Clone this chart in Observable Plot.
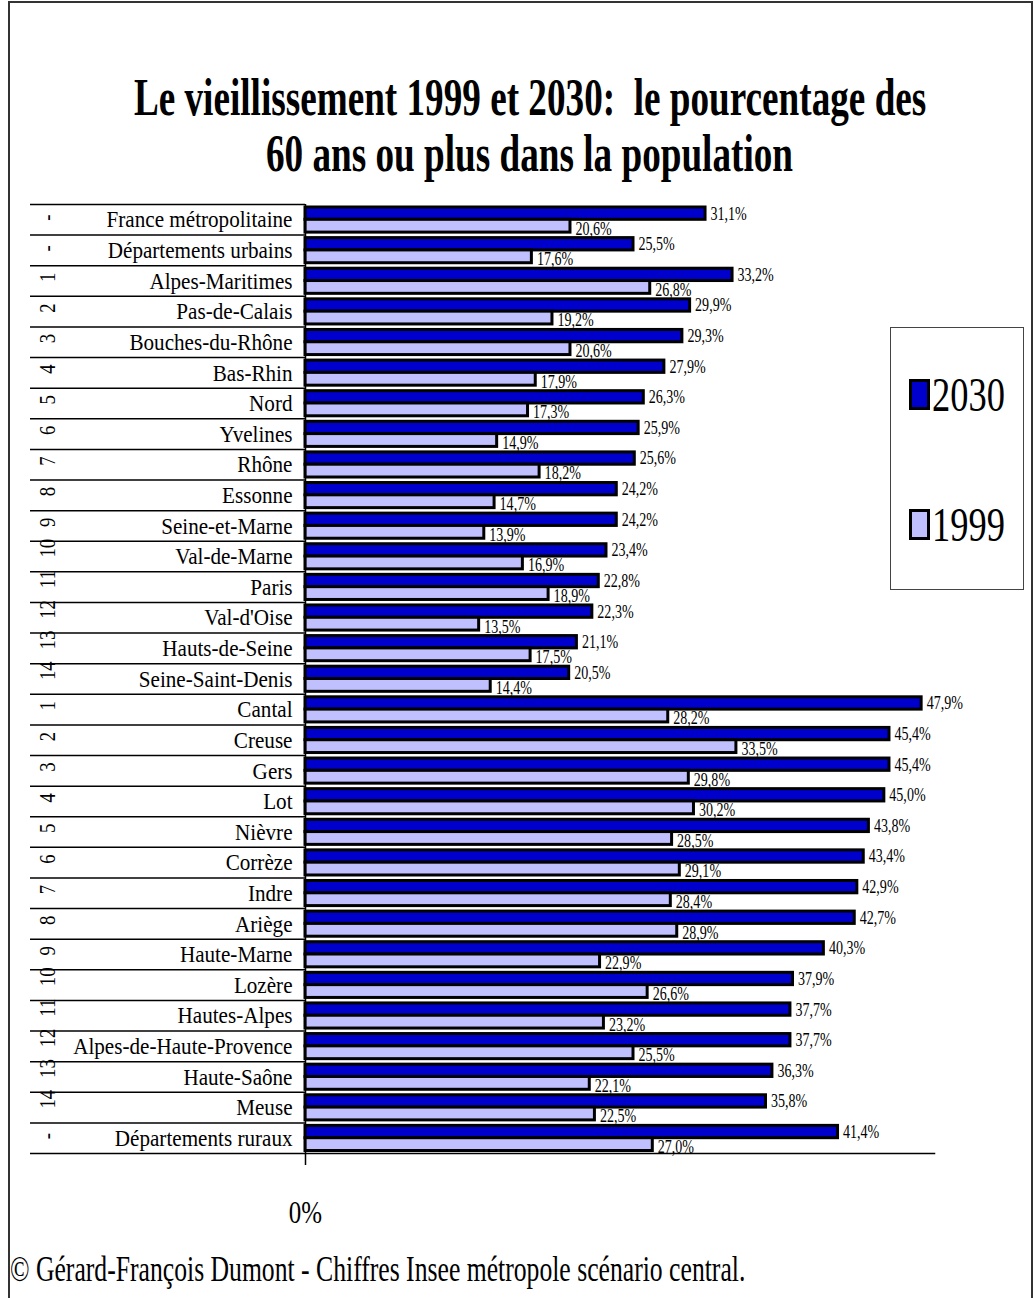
<!DOCTYPE html>
<html><head><meta charset="utf-8">
<script src="https://cdn.jsdelivr.net/npm/d3@7"></script>
<script src="https://cdn.jsdelivr.net/npm/@observablehq/plot@0.6"></script>
<style>
body{margin:0;background:#fff;}
#page{position:relative;width:1034px;height:1298px;overflow:hidden;font-family:"Liberation Serif","Times New Roman",serif;color:#000;}
#frame{position:absolute;left:8px;top:1px;width:1025px;height:1300px;border:2px solid #333;box-sizing:border-box;}
#chart{position:absolute;left:0;top:0;}
#title{position:absolute;left:-470px;width:2000px;top:70px;text-align:center;font-weight:bold;font-size:52px;line-height:56px;}
#title span{display:inline-block;white-space:nowrap;transform-origin:50% 50%;}
#caption{position:absolute;left:10px;top:1247px;font-size:36px;line-height:44px;white-space:nowrap;}
#caption span{display:inline-block;transform-origin:0 50%;}
#legend{position:absolute;left:890px;top:327px;width:134px;height:263px;border:1.5px solid #444;box-sizing:border-box;background:#fff;}
.lg-sw{position:absolute;left:18px;width:21px;height:31px;border:3px solid #000;box-sizing:border-box;}
.lg-tx{position:absolute;left:41px;font-size:48px;line-height:48px;white-space:nowrap;transform-origin:0 50%;}
</style>
</head><body>
<div id="page">
  <div id="frame"></div>
  <div id="chart"></div>
  <div id="title"><span id="t1">Le vieillissement 1999 et 2030:&nbsp; le pourcentage des</span><br><span id="t2">60 ans ou plus dans la population</span></div>
  <div id="legend"></div>
  <div id="caption"><span id="cap">© Gérard-François Dumont - Chiffres Insee métropole scénario central.</span></div>
</div>
<script>
// ---- data ----
const categories = [
  "France métropolitaine","Départements urbains","Alpes-Maritimes","Pas-de-Calais","Bouches-du-Rhône",
  "Bas-Rhin","Nord","Yvelines","Rhône","Essonne","Seine-et-Marne","Val-de-Marne","Paris","Val-d'Oise",
  "Hauts-de-Seine","Seine-Saint-Denis","Cantal","Creuse","Gers","Lot","Nièvre","Corrèze","Indre","Ariège",
  "Haute-Marne","Lozère","Hautes-Alpes","Alpes-de-Haute-Provence","Haute-Saône","Meuse","Départements ruraux"
];
const ranks = ["-","-","1","2","3","4","5","6","7","8","9","10","11","12","13","14",
  "1","2","3","4","5","6","7","8","9","10","11","12","13","14","-"];
const values2030 = [31.1,25.5,33.2,29.9,29.3,27.9,26.3,25.9,25.6,24.2,24.2,23.4,22.8,22.3,21.1,20.5,
  47.9,45.4,45.4,45.0,43.8,43.4,42.9,42.7,40.3,37.9,37.7,37.7,36.3,35.8,41.4];
const values1999 = [20.6,17.6,26.8,19.2,20.6,17.9,17.3,14.9,18.2,14.7,13.9,16.9,18.9,13.5,17.5,14.4,
  28.2,33.5,29.8,30.2,28.5,29.1,28.4,28.9,22.9,26.6,23.2,25.5,22.1,22.5,27.0];
const seriesNames = ["2030","1999"];
const seriesColors = ["#0000CC","#C0C0FF"];
const xTicks = [0];

const rows = categories.map((c,i)=>({category:c, rank:ranks[i], v2030:values2030[i], v1999:values1999[i]}));
const fmt = v => v.toFixed(1).replace(".", ",") + "%";

const W = 1034, H = 1298, mTop = 204, mBottom = 145, mLeft = 305, mRight = 100;
const bw = (H - mTop - mBottom) / categories.length;

const chart = Plot.plot({
  width: W, height: H,
  marginTop: mTop, marginBottom: mBottom, marginLeft: mLeft, marginRight: mRight,
  style: {fontFamily: "'Liberation Serif','Times New Roman',serif", background: "transparent", color: "#000", overflow: "visible"},
  x: {domain: [0, 48.9]},
  y: {domain: categories, padding: 0, round: false},
  marks: [
    Plot.ruleY(categories, {y: d => d, x1: 0, x2: 0, insetLeft: -275, dy: -bw/2, stroke: "#000", strokeWidth: 1.5}),
    Plot.ruleY([categories[categories.length-1]], {y: d => d, x1: 0, x2: 0, insetLeft: -275, dy: bw/2, stroke: "#000", strokeWidth: 1.5}),
    Plot.text(rows, {y: "category", text: "rank", frameAnchor: "left", dx: -258, dy: 1, rotate: -90, fontSize: 24, fill: "#000", ariaLabel: "rank"}),
    Plot.text(rows, {x: "v2030", y: "category", text: d => fmt(d.v2030), dx: 5, dy: -6, textAnchor: "start", fontSize: 18, fill: "#000"}),
    Plot.text(rows, {x: "v1999", y: "category", text: d => fmt(d.v1999), dx: 5, dy: 9, textAnchor: "start", fontSize: 18, fill: "#000"}),
    Plot.barX(rows, {x: "v2030", y: "category", fill: seriesColors[0], stroke: "#000", strokeWidth: 3, insetTop: 3, insetBottom: bw/2}),
    Plot.barX(rows, {x: "v1999", y: "category", fill: seriesColors[1], stroke: "#000", strokeWidth: 3, insetTop: bw/2, insetBottom: 2.5}),
    Plot.ruleX([0], {stroke: "#000", strokeWidth: 1.5, insetBottom: -12}),
    Plot.frame({anchor: "bottom", stroke: "#000", strokeWidth: 1.5}),
    Plot.axisY({tickSize: 0, tickPadding: 13, fontSize: 24, label: null}),
    Plot.axisX({ticks: xTicks, tickFormat: () => "0%", tickSize: 0, tickPadding: 47, fontSize: 32, label: null})
  ]
});
document.getElementById("chart").appendChild(chart);

// condense / stretch serif texts to mimic the narrow Times rendering of the original
function squeeze(t, f) {
  const len = t.getComputedTextLength();
  if (len > 0) {
    t.setAttribute("textLength", (len * f).toFixed(2));
    t.setAttribute("lengthAdjust", "spacingAndGlyphs");
  }
}
chart.querySelectorAll("g[aria-label]").forEach(g => {
  const lab = g.getAttribute("aria-label");
  let f = 0.78;
  if (lab.startsWith("y-axis")) f = 0.88;
  else if (lab === "rank") f = 1.1;
  g.querySelectorAll("text").forEach(t => squeeze(t, f));
});

// legend
const legend = document.getElementById("legend");
const itemTops = [51, 181];
seriesNames.forEach((name, i) => {
  const sw = document.createElement("div");
  sw.className = "lg-sw";
  sw.style.top = itemTops[i] + "px";
  sw.style.background = seriesColors[i];
  legend.appendChild(sw);
  const tx = document.createElement("div");
  tx.className = "lg-tx";
  tx.textContent = name;
  tx.style.top = (itemTops[i] - 8) + "px";
  tx.style.transform = "scaleX(0.76)";
  legend.appendChild(tx);
});

// fit title & caption widths (condensed face)
function fit(el, target) {
  const w = el.getBoundingClientRect().width;
  const f = target / w;
  el.style.transform = "scaleX(" + f.toFixed(3) + ")";
  return f;
}
const f1 = fit(document.getElementById("t1"), 792);
document.getElementById("t2").style.transform = "scaleX(" + f1.toFixed(3) + ")";
fit(document.getElementById("cap"), 735);
</script>
</body></html>
